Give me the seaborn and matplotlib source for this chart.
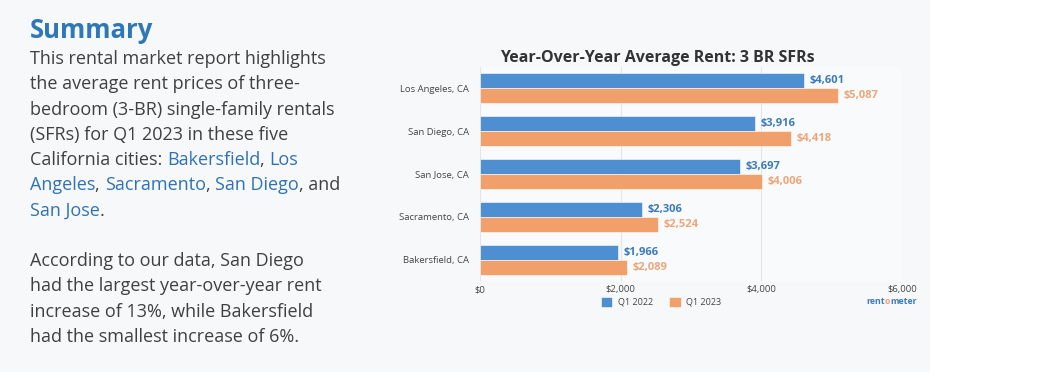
import pandas as pd
import matplotlib.pyplot as plt
from matplotlib.patches import Rectangle
import seaborn as sns

cities = ['Los Angeles, CA', 'San Diego, CA', 'San Jose, CA', 'Sacramento, CA', 'Bakersfield, CA']
rent_q1_2022 = [4601, 3916, 3697, 2306, 1966]
rent_q1_2023 = [5087, 4418, 4006, 2524, 2089]
periods = ['Q1 2022', 'Q1 2023']
x_ticks = [0, 2000, 4000, 6000]
x_tick_labels = ['$0', '$2,000', '$4,000', '$6,000']

BLUE = '#4d8fd1'
ORANGE = '#f2a06b'
BLUE_TXT = '#3b7bbd'
ORANGE_TXT = '#eba679'
LINK = '#2f72b4'
BODY = '#404040'

W, H = 1054, 385

def main():
    sns.set_theme(style='white')
    plt.rcParams['font.family'] = ['Open Sans', 'DejaVu Sans']

    df = pd.DataFrame({
        'city': cities * 2,
        'rent': rent_q1_2022 + rent_q1_2023,
        'period': [periods[0]] * len(cities) + [periods[1]] * len(cities),
    })

    fig = plt.figure(figsize=(W / 100, H / 100), dpi=100)
    fig.patch.set_facecolor('white')
    # light grey card behind everything
    fig.patches.append(Rectangle((0, 1 - 372 / H), 930 / W, 372 / H,
                                 transform=fig.transFigure, facecolor='#f6f8fa',
                                 edgecolor='none', zorder=-5))

    ax = fig.add_axes([480 / W, 1 - 281 / H, (902 - 480) / W, 214 / H])
    ax.set_facecolor('#f9fafc')
    sns.barplot(data=df, y='city', x='rent', hue='period', orient='h',
                palette=[BLUE, ORANGE], saturation=1, width=0.7, edgecolor='white',
                linewidth=0.4, ax=ax, zorder=3)
    ax.set_xlim(0, 6000)
    ax.set_xticks(x_ticks)
    ax.set_xticklabels(x_tick_labels)
    ax.set_xlabel('')
    ax.set_ylabel('')
    ax.tick_params(axis='x', labelsize=6.8, colors='#444444', length=0, pad=3)
    ax.tick_params(axis='y', labelsize=6.8, colors='#444444', length=0, pad=8)
    ax.grid(axis='x', color='#e3e5e8', linewidth=0.8, zorder=0)
    for s in ax.spines.values():
        s.set_visible(False)

    vals = [rent_q1_2022, rent_q1_2023]
    for cont, v, c in zip(ax.containers, vals, [BLUE_TXT, ORANGE_TXT]):
        ax.bar_label(cont, labels=['${:,}'.format(x) for x in v], padding=4,
                     color=c, fontsize=8, fontweight='bold')

    handles, labels = ax.get_legend_handles_labels()
    ax.legend(handles, labels, loc='center', bbox_to_anchor=(661 / W, 1 - 302 / H),
              bbox_transform=fig.transFigure, ncol=2, frameon=False,
              handlelength=1.3, handleheight=1.3, fontsize=6.5, columnspacing=1.8,
              handletextpad=0.6, labelcolor='#444444')

    fig.text(657 / W, 1 - 58 / H, 'Year-Over-Year Average Rent: 3 BR SFRs',
             ha='center', va='center', fontsize=11.5, fontweight='bold', color='#333333')

    renderer = fig.canvas.get_renderer()

    def segments(x_px, y_px, parts, size, weight='normal'):
        x = x_px
        for txt, col in parts:
            t = fig.text(x / W, 1 - y_px / H, txt, ha='left', va='center',
                         fontsize=size, color=col, fontweight=weight)
            x += t.get_window_extent(renderer).width

    # rentometer logo
    segments(866, 302, [('rent', '#3b7bbd'), ('o', '#f1a06e'), ('meter', '#3b7bbd')], 6.3, 'bold')

    fig.text(30 / W, 1 - 31 / H, 'Summary', ha='left', va='center',
             fontsize=18.5, fontweight='bold', color='#2e78b8')

    lines = [
        [('This rental market report highlights', BODY)],
        [('the average rent prices of three-', BODY)],
        [('bedroom (3-BR) single-family rentals', BODY)],
        [('(SFRs) for Q1 2023 in these five', BODY)],
        [('California cities: ', BODY), ('Bakersfield', LINK), (', ', BODY), ('Los', LINK)],
        [('Angeles', LINK), (', ', BODY), ('Sacramento', LINK), (', ', BODY),
         ('San Diego', LINK), (', and', BODY)],
        [('San Jose', LINK), ('.', BODY)],
    ]
    for i, parts in enumerate(lines):
        segments(30, 59 + i * 25.3, parts, 13)

    lines2 = [
        'According to our data, San Diego',
        'had the largest year-over-year rent',
        'increase of 13%, while Bakersfield',
        'had the smallest increase of 6%.',
    ]
    for i, s in enumerate(lines2):
        segments(30, 261 + i * 25.3, [(s, BODY)], 13)

    fig.savefig('out.png', dpi=100)
    plt.close(fig)

if __name__ == '__main__':
    main()
